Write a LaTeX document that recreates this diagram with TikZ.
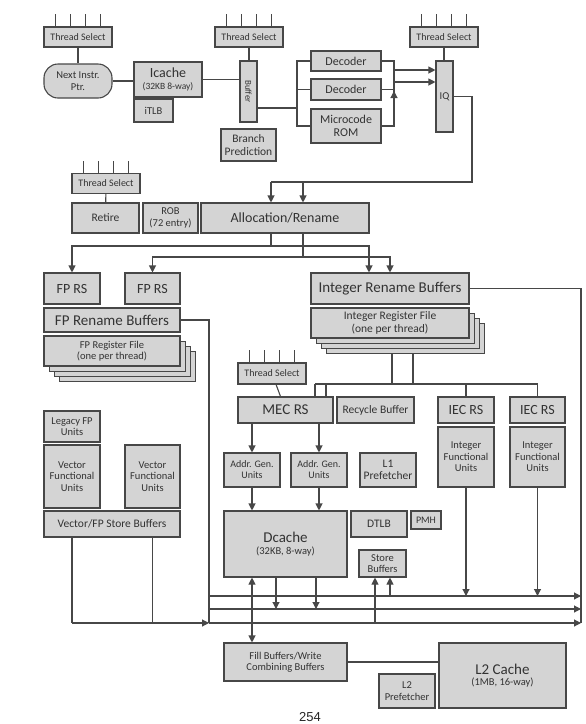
\documentclass[tikz,border=0pt]{standalone}
\usepackage{fontspec}
\setmainfont{Carlito}
\newfontfamily\pagefont{Liberation Sans}
\usetikzlibrary{arrows.meta}
\begin{document}
\begin{tikzpicture}[x=1pt, y=-1pt,
  g/.style={draw=black!72, line width=1.1pt, fill=black!17, text=black!80, align=center,
    inner sep=1pt, font=\fontsize{10.5}{11.5}\selectfont},
  big/.style={font=\fontsize{14}{16}\selectfont},
  huge/.style={font=\fontsize{15}{17}\selectfont},
  mid/.style={font=\fontsize{12}{13}\selectfont},
  sm/.style={font=\fontsize{10}{11}\selectfont},
  lg/.style={font=\fontsize{11.5}{12.5}\selectfont},
  w/.style={draw=black!72, line width=1.1pt},
  ar/.style={w, -{Triangle[length=7pt,width=7pt]}}]
  \useasboundingbox (0,0) rectangle (586,724);
  % fetch
  \node[g, sm, minimum width=68pt, minimum height=20pt] (ts1) at (78,37) {Thread Select};
  \node[g, sm, minimum width=68pt, minimum height=20pt] (ts2) at (249,37) {Thread Select};
  \node[g, sm, minimum width=68pt, minimum height=20pt] (ts3) at (444,37) {Thread Select};
  \node[g, minimum width=68pt, minimum height=34pt, rounded corners=14pt] (nip) at (78,81) {Next Instr.\\Ptr.};
  \node[g, minimum width=68pt, minimum height=35pt] (ic) at (168,79.5) {{\fontsize{14}{15}\selectfont Icache}\\{\fontsize{9.5}{10.5}\selectfont(32KB 8-way)}};
  \node[g, minimum width=39pt, minimum height=23pt] (itlb) at (153.5,110.5) {iTLB};
  \node[g, minimum width=17pt, minimum height=61pt] (buf) at (248.5,91.5) {};
  \node[font=\fontsize{9}{10}\selectfont, rotate=-90, text=black!80] (buftxt) at (buf) {Buffer};
  \node[g, lg, minimum width=55pt, minimum height=32pt] (bp) at (248.5,145) {Branch\\Prediction};
  \node[g, mid, minimum width=70pt, minimum height=20pt] (dec1) at (346,61) {Decoder};
  \node[g, mid, minimum width=70pt, minimum height=21pt] (dec2) at (346,89.5) {Decoder};
  \node[g, mid, minimum width=70pt, minimum height=34pt] (rom) at (346,126) {Microcode\\ROM};
  \node[g, minimum width=17pt, minimum height=71pt] (iq) at (444.5,96.5) {IQ};
  % allocation
  \node[g, sm, minimum width=68pt, minimum height=20pt] (ts4) at (106,183.5) {Thread Select};
  \node[g, lg, minimum width=67pt, minimum height=30pt] (ret) at (105.5,218) {Retire};
  \node[g, minimum width=55pt, minimum height=30pt] (rob) at (170.5,218) {ROB\\(72 entry)};
  \node[g, big, minimum width=168pt, minimum height=30pt] (alloc) at (285,218) {Allocation/Rename};
  % FP side
  \node[g, big, minimum width=56pt, minimum height=31pt] (fprs1) at (72,288.5) {FP RS};
  \node[g, big, minimum width=55pt, minimum height=31pt] (fprs2) at (152.5,288.5) {FP RS};
  \node[g, huge, minimum width=136pt, minimum height=24pt] (fprb) at (112,320) {FP Rename Buffers};
  \foreach \i in {3,2,1}
    \node[g, minimum width=136pt, minimum height=30pt] (fprf\i) at (112+5.3*\i,351+5.3*\i) {};
  \node[g, minimum width=136pt, minimum height=30pt] (fprf) at (112,351) {FP Register File\\(one per thread)};
  \node[g, minimum width=56pt, minimum height=31pt] (lfp) at (72,426.5) {Legacy FP\\Units};
  \node[g, minimum width=56pt, minimum height=63pt] (vfu1) at (72,476.5) {Vector\\Functional\\Units};
  \node[g, minimum width=55pt, minimum height=63pt] (vfu2) at (152.5,476.5) {Vector\\Functional\\Units};
  \node[g, lg, minimum width=136pt, minimum height=26pt] (vfsb) at (112,524) {Vector/FP Store Buffers};
  % integer side
  \node[g, huge, minimum width=158pt, minimum height=31pt] (irb) at (390,288.5) {Integer Rename Buffers};
  \foreach \i in {3,2,1}
    \node[g, minimum width=158pt, minimum height=30pt] (irf\i) at (390+5.3*\i,323+5.3*\i) {};
  \node[g, lg, minimum width=158pt, minimum height=30pt] (irf) at (390,323) {Integer Register File\\(one per thread)};
  \node[g, sm, minimum width=68pt, minimum height=21pt] (ts5) at (272,373.5) {Thread Select};
  \node[g, huge, minimum width=95pt, minimum height=26pt] (mec) at (285.5,410) {MEC RS};
  \node[g, lg, minimum width=77pt, minimum height=26pt] (rcb) at (375.5,410) {Recycle Buffer};
  \node[g, big, minimum width=56pt, minimum height=26pt] (iec1) at (466,410) {IEC RS};
  \node[g, big, minimum width=55pt, minimum height=26pt] (iec2) at (537.5,410) {IEC RS};
  \node[g, minimum width=56pt, minimum height=60pt] (ifu1) at (466,457) {Integer\\Functional\\Units};
  \node[g, minimum width=55pt, minimum height=60pt] (ifu2) at (537.5,457) {Integer\\Functional\\Units};
  % memory
  \node[g, sm, minimum width=56pt, minimum height=34pt] (agu1) at (252,470) {Addr. Gen.\\Units};
  \node[g, sm, minimum width=56pt, minimum height=34pt] (agu2) at (319,470) {Addr. Gen.\\Units};
  \node[g, lg, minimum width=56pt, minimum height=34pt] (l1p) at (388,470) {L1\\Prefetcher};
  \node[g, minimum width=123pt, minimum height=66pt] (dc) at (285.5,544) {{\fontsize{15}{17}\selectfont Dcache}\\{\fontsize{10.5}{11.5}\selectfont(32KB, 8-way)}};
  \node[g, lg, minimum width=56pt, minimum height=26pt] (dtlb) at (379,524) {DTLB};
  \node[g, sm, minimum width=30pt, minimum height=18pt] (pmh) at (426,520) {PMH};
  \node[g, minimum width=47pt, minimum height=27pt] (sb) at (382.5,563.5) {Store\\Buffers};
  \node[g, minimum width=123pt, minimum height=38pt] (fb) at (285.5,662) {Fill Buffers/Write\\Combining Buffers};
  \node[g, minimum width=127pt, minimum height=65pt] (l2) at (502.5,675.5) {{\fontsize{15}{17}\selectfont L2 Cache}\\{\fontsize{10.5}{11.5}\selectfont(1MB, 16-way)}};
  \node[g, minimum width=56pt, minimum height=34pt] (l2p) at (407,691) {L2\\Prefetcher};
  \node[font=\fontsize{13}{13}\selectfont\pagefont, text=black!85] (pg) at (310,717) {254};
  % thread select inputs
  \foreach \t in {ts1,ts2,ts3,ts4,ts5}
    \foreach \dx in {-22.5,-7.5,7.5,22.5}
      \draw[w] ([xshift=\dx pt]\t.north) -- ++(0,-12);
  % front end wires
  \draw[w] (ts1) -- (nip);
  \draw[w] (nip.east) -- (nip.east -| ic.west);
  \draw[w] (ic.east) -- (ic.east -| buf.west);
  \draw[w] (ts2.south) -- (ts2.south |- buf.north);
  \coordinate (fan) at (297,108);
  \coordinate (fin) at (394,61);
  \draw[w] (buf.east |- fan) -- (fan);
  \draw[w] (dec1.west) -- (dec1.west -| fan) -- (rom.west -| fan) -- (rom.west);
  \draw[w] (dec2.west) -- (dec2.west -| fan);
  \draw[w] (dec1.east) -- (dec1.east -| fin) -- (rom.east -| fin) -- (rom.east);
  \draw[w] (dec2.east) -- (dec2.east -| fin);
  \draw[ar] (rom.east -| fin) -- ++(0,-35);
  \coordinate (q1) at (394,70);
  \coordinate (q2) at (394,82);
  \draw[ar] (q1) -- (q1 -| iq.west);
  \draw[ar] (q2) -- (q2 -| iq.west);
  \draw[w] (ts3.south) -- (ts3.south |- iq.north);
  % IQ to allocation
  \coordinate (iqo) at (472,182);
  \coordinate (aa) at (271,182);
  \coordinate (ab) at (303,182);
  \draw[w] (iq.east) -| (iqo) -- (aa);
  \draw[ar] (aa) -- (aa |- alloc.north);
  \draw[ar] (ab) -- (ab |- alloc.north);
  \draw[w] (ts4) -- (ret);
  % allocation to RS
  \coordinate (ra) at (271,246);
  \coordinate (rb) at (303,257);
  \draw[w] (ra |- alloc.south) -- (ra);
  \draw[w] (rb |- alloc.south) -- (rb);
  \draw[ar] (ra) -| (fprs1.north);
  \draw[ar] (rb) -| (fprs2.north);
  \draw[ar] (ra) -| ([xshift=-21pt]irb.north);
  \draw[ar] (rb) -| (irb.north);
  % writeback buses
  \coordinate (b1) at (209,596);
  \coordinate (b2) at (209,609);
  \coordinate (b3) at (209,623);
  \coordinate (e1) at (581,596);
  \coordinate (e2) at (581,609);
  \coordinate (e3) at (581,623);
  \draw[w] (fprb.east) -| (b3);
  \draw[w] (irb.east) -| (e3);
  \draw[ar] (b1) -- (e1);
  \draw[ar] (b2) -- (e2);
  \draw[ar] (b3) -- (e3);
  \coordinate (vs) at (72,623);
  \draw[w] (vfsb.south -| vfu1) -- (vs);
  \draw[w] (vfsb.south -| vfu2) -- (vs -| vfu2);
  \draw[ar] (vs) -- (b3);
  % integer register file to RS
  \coordinate (ri1) at (392,384);
  \coordinate (ri2) at (413,384);
  \coordinate (mq1) at (315,384);
  \coordinate (mq2) at (326,384);
  \draw[w] (ri1 |- irf3.south) -- (ri1);
  \draw[w] (ri2 |- irf3.south) -- (ri2);
  \draw[w] (mq1) -- (mq1 -| iec2) -- (iec2.north);
  \draw[w] (mq1) -- (mq1 |- mec.north);
  \draw[w] (mq2) -- (mq2 |- mec.north);
  \draw[w] (mq1 -| iec1) -- (iec1.north);
  \draw[w] (ts5) -- (mec);
  \draw[ar] (ifu1.south) -- (ifu1 |- e1);
  \draw[ar] (ifu2.south) -- (ifu2 |- e1);
  % memory wires
  \draw[ar] (agu1 |- mec.south) -- (agu1.north);
  \draw[ar] (agu2 |- mec.south) -- (agu2.north);
  \draw[ar] (agu1.south) -- (agu1 |- dc.north);
  \draw[ar] (agu2.south) -- (agu2 |- dc.north);
  \draw[w, {Triangle[length=7pt,width=7pt]}-{Triangle[length=7pt,width=7pt]}] (agu1 |- dc.south) -- (agu1 |- fb.north);
  \coordinate (d1) at (276,609);
  \coordinate (d2) at (316,609);
  \draw[ar] (d1 |- dc.south) -- (d1);
  \draw[ar] (d2 |- dc.south) -- (d2);
  \coordinate (s1) at (375,623);
  \coordinate (s2) at (390,596);
  \draw[ar] (s1) -- (s1 |- sb.south);
  \draw[ar] (s2) -- (s2 |- sb.south);
  \draw[w] (fb.east) -- (fb.east -| l2.west);
\end{tikzpicture}
\end{document}
